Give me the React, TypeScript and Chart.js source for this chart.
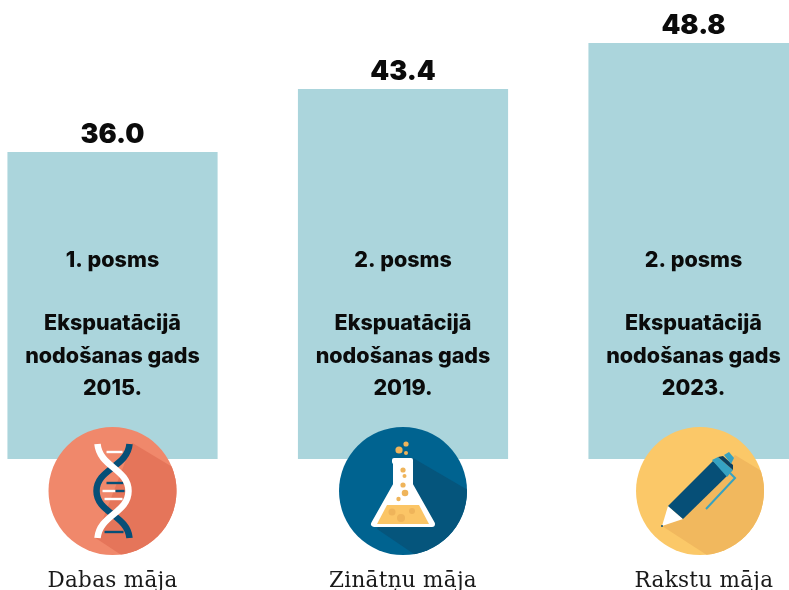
import React, { useEffect, useRef } from "react";
import { Chart, registerables } from "chart.js";

Chart.register(...registerables);

const positions = [0, 1, 2];
const values = [36.0, 43.4, 48.8];
const houses = ["Dabas māja", "Zinātņu māja", "Rakstu māja"];
const stages = ["1. posms", "2. posms", "2. posms"];
const years = ["2015.", "2019.", "2023."];
const captionLines = ["Ekspuatācijā", "nodošanas gads"];
const iconOffsets = [0, 0, 6.5];
const captionOffsets = [0, 0, 10.5];

const BAR = "#abd5dc";
const NAVY = "#064f77";
const INK = "#0b0b0b";
const SANS = "Inter, 'Noto Sans', sans-serif";
const SERIF = "'DejaVu Serif', serif";

function disc(ctx: CanvasRenderingContext2D, x: number, y: number, r: number, fill: string) {
  ctx.fillStyle = fill;
  ctx.beginPath();
  ctx.arc(x, y, r, 0, Math.PI * 2);
  ctx.fill();
}

function poly(ctx: CanvasRenderingContext2D, pts: number[][], fill: string) {
  ctx.fillStyle = fill;
  ctx.beginPath();
  pts.forEach((p, i) => (i ? ctx.lineTo(p[0], p[1]) : ctx.moveTo(p[0], p[1])));
  ctx.closePath();
  ctx.fill();
}

function badge(ctx: CanvasRenderingContext2D, base: string, shade: string, shadow: number[][]) {
  disc(ctx, 0, 0, 64, base);
  ctx.save();
  ctx.beginPath();
  ctx.arc(0, 0, 64, 0, Math.PI * 2);
  ctx.clip();
  poly(ctx, shadow, shade);
  ctx.restore();
}

function dna(ctx: CanvasRenderingContext2D) {
  badge(ctx, "#f0886b", "#e5755a", [[20, -48], [80, -12], [80, 80], [33, 80], [-17, 47]]);
  ctx.lineCap = "butt";
  const rung = (y: number, x0: number, x1: number, c: string) => {
    ctx.strokeStyle = c;
    ctx.lineWidth = 2.4;
    ctx.beginPath();
    ctx.moveTo(x0, y);
    ctx.lineTo(x1, y);
    ctx.stroke();
  };
  rung(-39, -6, 10, "#ffffff");
  rung(-8, -6, 11, NAVY);
  rung(0, -10, 3, "#ffffff");
  rung(0, 3, 12, NAVY);
  rung(8, -8, 10, "#ffffff");
  rung(41, -8, 11, NAVY);
  ctx.lineWidth = 6.5;
  ctx.strokeStyle = NAVY;
  ctx.beginPath();
  ctx.moveTo(17, -47);
  ctx.bezierCurveTo(15, -24, -16, -22, -16, 0);
  ctx.bezierCurveTo(-16, 22, 15, 24, 17, 47);
  ctx.stroke();
  ctx.strokeStyle = "#ffffff";
  ctx.beginPath();
  ctx.moveTo(-15, -47);
  ctx.bezierCurveTo(-13, -24, 16, -22, 16, 0);
  ctx.bezierCurveTo(16, 22, -13, 24, -15, 47);
  ctx.stroke();
}

function flask(ctx: CanvasRenderingContext2D) {
  badge(ctx, "#006390", "#05557c", [[10, -33], [70, 2], [70, 80], [36, 80], [-26, 38]]);
  ctx.fillStyle = "#ffffff";
  ctx.beginPath();
  ctx.roundRect(-11, -33, 21, 6, 2);
  ctx.fill();
  ctx.strokeStyle = "#ffffff";
  ctx.lineJoin = "round";
  ctx.lineWidth = 6;
  ctx.beginPath();
  ctx.moveTo(-7, -28);
  ctx.lineTo(-7, -6);
  ctx.lineTo(-29, 33);
  ctx.lineTo(29, 33);
  ctx.lineTo(7, -6);
  ctx.lineTo(7, -28);
  ctx.closePath();
  ctx.fillStyle = "#ffffff";
  ctx.fill();
  ctx.stroke();
  poly(ctx, [[-16, 14], [16, 14], [26, 33], [-26, 33]], "#fbc566");
  const b = "#efb45a";
  [
    [-4, -41, 3.6], [3, -47, 2.6], [3, -38, 2], [0, -21, 2.6], [1.5, -15, 2],
    [0, -6, 2.6], [2, 2, 3.3], [-4.5, 8, 2.2], [-11, 21, 3.5], [-2, 27, 4], [9, 20, 3],
  ].forEach((c) => disc(ctx, c[0], c[1], c[2], b));
}

function pen(ctx: CanvasRenderingContext2D) {
  badge(ctx, "#fbc868", "#f1b85e", [[35, -36], [80, -9], [80, 80], [30, 79], [-38, 35]]);
  poly(ctx, [[-38, 35], [-32, 15], [-17, 28]], "#ffffff");
  disc(ctx, -38, 35, 1, NAVY);
  poly(ctx, [[-32, 15], [13, -30], [28, -16], [-17, 28]], NAVY);
  poly(ctx, [[12, -31], [18, -34], [33, -21], [27, -14]], "#36a2c2");
  poly(ctx, [[18, -34], [23, -35], [33, -26], [33, -21]], "#0c3f5f");
  poly(ctx, [[24, -36], [29, -39], [34, -33], [31, -27]], "#36a2c2");
  ctx.strokeStyle = "#36a2c2";
  ctx.lineWidth = 2;
  ctx.beginPath();
  ctx.moveTo(30, -18);
  ctx.lineTo(35, -13);
  ctx.lineTo(6, 18);
  ctx.stroke();
}

const icons = [dna, flask, pen];

const decorations = {
  id: "decorations",
  afterDatasetsDraw(chart: any) {
    const { ctx } = chart;
    const xs = chart.scales.x;
    const ys = chart.scales.y;
    const base = ys.getPixelForValue(0);
    ctx.save();
    ctx.textAlign = "center";
    ctx.textBaseline = "alphabetic";
    values.forEach((v, i) => {
      const x = xs.getPixelForValue(positions[i]);
      const top = ys.getPixelForValue(v);
      ctx.fillStyle = INK;
      ctx.letterSpacing = "0px";
      ctx.font = `900 27px ${SANS}`;
      ctx.fillText(v.toFixed(1), x, top - 9);
      ctx.font = `800 21.5px ${SANS}`;
      ctx.fillText(stages[i], x, base - 192);
      ctx.fillText(captionLines[0], x, base - 129);
      ctx.fillText(captionLines[1], x, base - 96);
      ctx.fillText(years[i], x, base - 64);
      ctx.save();
      ctx.translate(x + iconOffsets[i], base + 32);
      icons[i](ctx);
      ctx.restore();
      ctx.fillStyle = "#1a1a1a";
      ctx.letterSpacing = "0.3px";
      ctx.font = `400 21.5px ${SERIF}`;
      ctx.fillText(houses[i], x + captionOffsets[i], base + 128);
    });
    ctx.restore();
  },
};

export default function App() {
  const ref = useRef<HTMLCanvasElement>(null);
  useEffect(() => {
    document.body.style.margin = "0";
    const chart = new Chart(ref.current!, {
      type: "bar",
      data: {
        datasets: [
          {
            data: positions.map((p, i) => ({ x: p, y: values[i] })),
            backgroundColor: BAR,
            borderWidth: 0,
            barThickness: 209.5,
          },
        ],
      },
      options: {
        animation: false,
        responsive: false,
        layout: { padding: { left: 0, right: 0, top: 0, bottom: 131 } },
        plugins: { legend: { display: false }, tooltip: { enabled: false } },
        scales: {
          x: {
            type: "linear",
            offset: false,
            min: -0.3873,
            max: 2.3287,
            display: false,
          },
          y: { min: 0, max: 53.9, display: false },
        },
      },
      plugins: [decorations],
    } as any);
    return () => chart.destroy();
  }, []);
  return (
    <div style={{ width: 789, height: 590, overflow: "hidden", background: "#fff" }}>
      <canvas ref={ref} width={789} height={590} style={{ display: "block", width: 789, height: 590 }} />
    </div>
  );
}
